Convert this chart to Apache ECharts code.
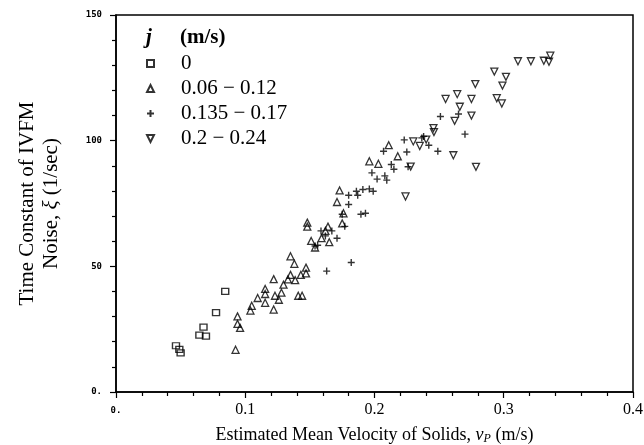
<!DOCTYPE html>
<html><head><meta charset="utf-8">
<script src="https://cdn.jsdelivr.net/npm/echarts@6/dist/echarts.min.js"></script>
<style>html,body{margin:0;padding:0;background:#fff}#c{width:644px;height:445px}</style>
</head><body><div id="c"></div>
<script>
const seriesNames = ['0', '0.06 \u2212 0.12', '0.135 \u2212 0.17', '0.2 \u2212 0.24'];
const xTicks = [0, 0.1, 0.2, 0.3, 0.4];
const yTicks = [0, 50, 100, 150];
const dataJ0 = [[0.0845,40.0],[0.0774,31.6],[0.0677,25.8],[0.0645,22.6],[0.0696,22.2],[0.0464,18.4],[0.049,17.0],[0.050,15.6]];
const dataJ1 = [[0.0925,16.8],[0.094,30.1],[0.094,27.1],[0.096,25.5],[0.104,32.4],[0.105,34.3],[0.1096,37.4],[0.1154,41.0],[0.1154,39.0],[0.1154,35.5],[0.122,32.8],[0.122,44.9],[0.123,38.3],[0.126,36.7],[0.128,39.5],[0.1296,42.7],[0.133,44.8],[0.135,46.6],[0.135,54.0],[0.138,51.0],[0.1386,44.5],[0.141,38.3],[0.144,38.3],[0.143,46.6],[0.147,49.5],[0.147,47.2],[0.148,67.4],[0.148,65.8],[0.151,60.1],[0.154,57.5],[0.159,61.2],[0.162,64.1],[0.164,65.8],[0.165,59.6],[0.171,75.6],[0.173,80.2],[0.175,67.1],[0.176,71.1],[0.196,91.8],[0.203,90.8],[0.211,98.2],[0.218,93.8]];
const dataJ2 = [[0.163,48.1],[0.182,51.5],[0.154,58.1],[0.156,58.4],[0.1586,64.1],[0.162,62.1],[0.167,64.1],[0.171,61.2],[0.175,70.7],[0.177,65.9],[0.180,74.6],[0.180,78.3],[0.186,79.9],[0.187,78.3],[0.1895,70.7],[0.193,71.1],[0.191,80.6],[0.196,80.8],[0.199,79.9],[0.198,87.2],[0.202,84.7],[0.208,86.0],[0.2095,84.3],[0.207,95.8],[0.213,90.5],[0.215,88.6],[0.223,100.3],[0.225,95.5],[0.226,89.6],[0.2366,101.1],[0.242,98.2],[0.238,101.7],[0.249,95.8],[0.251,109.6],[0.265,110.6],[0.270,102.6]];
const dataJ3 = [[0.224,77.8],[0.228,89.7],[0.230,99.7],[0.235,97.9],[0.240,100.4],[0.2456,105.0],[0.246,103.4],[0.261,94.2],[0.255,116.6],[0.262,107.9],[0.264,118.5],[0.266,113.5],[0.275,116.6],[0.275,110.0],[0.278,122.5],[0.2785,89.6],[0.2927,127.5],[0.2946,116.9],[0.2985,114.8],[0.299,121.9],[0.3017,125.4],[0.311,131.6],[0.321,131.6],[0.331,131.8],[0.335,131.4],[0.336,133.8]];

const serif = '"Liberation Serif", "DejaVu Serif", serif';
const mono = '"DejaVu Sans Mono", monospace';
const symbols = ['rect', 'triangle', 'path://M-1,0L1,0M0,-1L0,1', 'path://M-1,-1L1,-1L0,1Z'];
const sizes = [[7,6], 7, 7, 7];
const allData = [dataJ0, dataJ1, dataJ2, dataJ3];

const chart = echarts.init(document.getElementById('c'));
chart.setOption({
  animation: false,
  backgroundColor: '#fff',
  grid: {left: 116, right: 11, top: 15, bottom: 53, show: true, borderColor: '#000', borderWidth: 1.5, containLabel: false, outerBoundsMode: 'none'},
  title: {
    text: '{i|j}{n|(m/s)}', left: 141, top: 21,
    textStyle: {rich: {
      i: {fontFamily: serif, fontStyle: 'italic', fontSize: 21, lineHeight: 24, width: 34, color: '#000'},
      n: {fontFamily: serif, fontSize: 21, lineHeight: 24, color: '#000'}
    }}
  },
  legend: {
    orient: 'vertical', left: 141, top: 48, itemWidth: 7, itemHeight: 7, itemGap: 4,
    data: seriesNames,
    textStyle: {fontFamily: serif, fontSize: 21, color: '#000', lineHeight: 21, padding: [0,0,0,22]}
  },
  xAxis: {
    type: 'value', min: 0, max: 0.4, interval: 0.1,
    name: 'Estimated Mean Velocity of Solids, {i|v}{s|P} (m/s)',
    nameLocation: 'middle', nameGap: 33,
    nameTextStyle: {fontFamily: serif, fontSize: 18, color: '#000', rich: {
      i: {fontFamily: serif, fontStyle: 'italic', fontSize: 18, color: '#000'},
      s: {fontFamily: serif, fontStyle: 'italic', fontSize: 12, color: '#000', verticalAlign: 'bottom', padding: [8,0,0,0]}
    }},
    axisLine: {lineStyle: {color: '#000', width: 1.5}},
    axisTick: {inside: false, length: 6, lineStyle: {color: '#000', width: 1.2}},
    minorTick: {show: true, splitNumber: 5, length: 4, lineStyle: {color: '#000', width: 1.2}},
    splitLine: {show: false},
    axisLabel: {
      margin: 10,
      formatter: v => { const t = xTicks.find(k => Math.abs(k - v) < 1e-9); if (t === 0) return '{s|0.}'; return '{n|' + t.toFixed(1) + '}'; },
      rich: {
        s: {fontFamily: mono, fontSize: 9, fontWeight: 'bold', color: '#000', padding: [4,0,0,0]},
        n: {fontFamily: serif, fontSize: 16, color: '#000'}
      }
    }
  },
  yAxis: {
    type: 'value', min: 0, max: 150, interval: 50,
    name: 'Time Constant of IVFM\nNoise, {i|\u03be} (1/sec)',
    nameLocation: 'middle', nameGap: 53,
    nameTextStyle: {fontFamily: serif, fontSize: 21, color: '#000', lineHeight: 24, rich: {
      i: {fontFamily: serif, fontStyle: 'italic', fontSize: 21, color: '#000', lineHeight: 24}
    }},
    axisLine: {lineStyle: {color: '#000', width: 1.5}},
    axisTick: {inside: false, length: 6, lineStyle: {color: '#000', width: 1.2}},
    minorTick: {show: true, splitNumber: 5, length: 4, lineStyle: {color: '#000', width: 1.2}},
    splitLine: {show: false},
    axisLabel: {
      margin: 14, fontFamily: mono, fontSize: 9, fontWeight: 'bold', color: '#000',
      formatter: v => { const t = yTicks.find(k => Math.abs(k - v) < 1e-9); return t === 0 ? '0.' : String(t); }
    }
  },
  series: seriesNames.map((n, i) => ({
    name: n, type: 'scatter', data: allData[i],
    symbol: symbols[i], symbolSize: sizes[i],
    itemStyle: {color: 'rgba(0,0,0,0)', borderColor: '#000', borderWidth: i === 2 ? 1.4 : 1.3}
  }))
});
</script></body></html>
